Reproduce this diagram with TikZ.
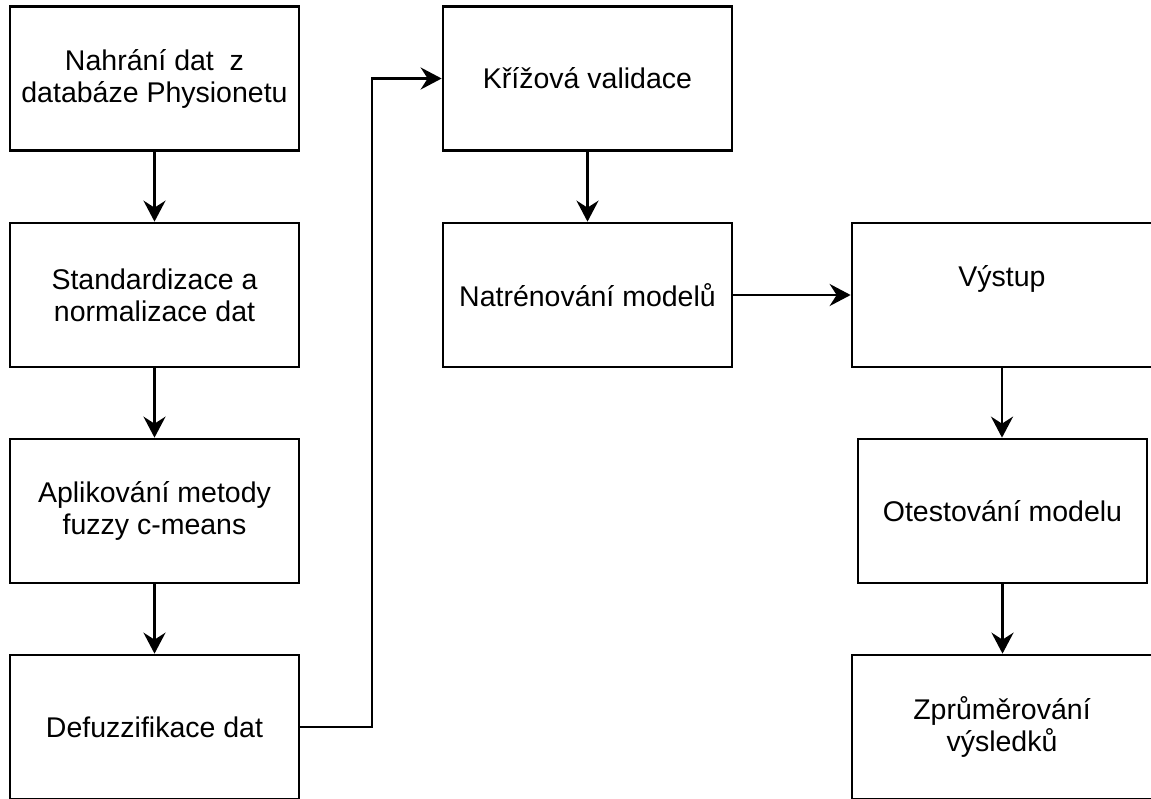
\documentclass[tikz,border=0pt]{standalone}
\usepackage{fontspec}
\setmainfont{Liberation Sans}
\usetikzlibrary{arrows.meta}
\tikzset{
  box/.style={draw=black, line width=2.7pt, rectangle, inner sep=0pt, align=center,
    minimum height=144pt, font=\fontsize{28.5}{32}\selectfont},
  narrow/.style={box, minimum width=289pt},
  wide/.style={box, minimum width=300pt},
  flow/.style={draw=black, line width=2.7pt, -{Stealth[length=21pt,width=22pt,inset=7pt]}},
  label/.style={inner sep=0pt, align=center, font=\fontsize{28.5}{32}\selectfont}
}
\begin{document}
\begin{tikzpicture}[x=1pt,y=-1pt]
\useasboundingbox (0,0) rectangle (1151,798);
\clip (0,0) rectangle (1151,798);
\fill[white] (0,0) rectangle (1151,798);
% left column
\node[narrow] (b1) at (154.5,78.5) {Nahrání dat\ \ z\\databáze Physionetu};
\node[narrow] (b2) at (154.5,295) {Standardizace a\\normalizace dat};
\node[narrow] (b3) at (154.5,511) {Aplikování metody\\fuzzy c-means};
\node[narrow] (b4) at (154.5,727) {Defuzzifikace dat};
% middle column
\node[narrow] (b5) at (587.5,78.5) {Křížová validace};
\node[narrow] (b6) at (587.5,295) {Natrénování modelů};
% right column
\node[wide] (b7) at (1002,295) {};
\node[label] (t7) at (1002,279) {Výstup};
\node[narrow] (b8) at (1002.5,511) {Otestování modelu};
\node[wide] (b9) at (1002,727) {Zprůměrování\\výsledků};
% connectors
\coordinate (turn) at (372,727);
\draw[flow] (b1.south) -- (b2.north);
\draw[flow] (b2.south) -- (b3.north);
\draw[flow] (b3.south) -- (b4.north);
\draw[flow] (b4.east) -- (turn) |- (b5.west);
\draw[flow] (b5.south) -- (b6.north);
\draw[flow] (b6.east) -- (b7.west);
\draw[flow] (b7.south) -- (b7.south |- b8.north);
\draw[flow] (b8.south) -- (b8.south |- b9.north);
\end{tikzpicture}
\end{document}
